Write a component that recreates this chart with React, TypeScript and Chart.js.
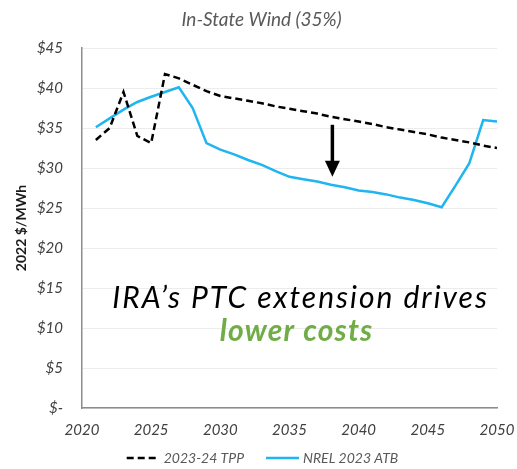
import React, { useEffect, useRef } from "react";
import { Chart, registerables } from "chart.js";

Chart.register(...registerables);

const years = [2021, 2022, 2023, 2024, 2025, 2026, 2027, 2028, 2029, 2030, 2031, 2032, 2033, 2034, 2035, 2036, 2037, 2038, 2039, 2040, 2041, 2042, 2043, 2044, 2045, 2046, 2047, 2048, 2049, 2050];
const tppValues = [33.5, 35.0, 39.5, 34.0, 33.1, 41.75, 41.2, 40.4, 39.6, 39.0, 38.7, 38.4, 38.1, 37.7, 37.4, 37.1, 36.8, 36.4, 36.1, 35.8, 35.5, 35.1, 34.8, 34.5, 34.2, 33.8, 33.5, 33.2, 32.8, 32.5];
const atbValues = [35.1, 36.2, 37.3, 38.25, 38.9, 39.5, 40.1, 37.5, 33.1, 32.3, 31.7, 31.0, 30.4, 29.6, 28.9, 28.6, 28.3, 27.9, 27.6, 27.2, 27.0, 26.7, 26.3, 26.0, 25.6, 25.1, 27.8, 30.6, 36.0, 35.8];
const seriesNames = ["2023-24 TPP", "NREL 2023 ATB"];
const chartTitle = "In-State Wind (35%)";
const yAxisTitle = "2022 $/MWh";
const annotationLine1 = "IRA\u2019s PTC extension drives";
const annotationLine2 = "lower costs";
const arrowYear = 2038.1;
const arrowFrom = 35.4;
const arrowTo = 28.9;

const FONT = "Lato, 'Open Sans', sans-serif";

const annotationPlugin = {
  id: "annotations",
  afterDatasetsDraw(chart: any) {
    const { ctx, scales } = chart;
    const xs = scales.x;
    const ys = scales.y;
    const ax = xs.getPixelForValue(arrowYear);
    const y1 = ys.getPixelForValue(arrowFrom);
    const y2 = ys.getPixelForValue(arrowTo);
    ctx.save();
    ctx.strokeStyle = "#000";
    ctx.fillStyle = "#000";
    ctx.lineWidth = 3.5;
    ctx.beginPath();
    ctx.moveTo(ax, y1);
    ctx.lineTo(ax, y2 - 14);
    ctx.stroke();
    ctx.beginPath();
    ctx.moveTo(ax - 7.5, y2 - 16);
    ctx.lineTo(ax + 7.5, y2 - 16);
    ctx.lineTo(ax, y2);
    ctx.closePath();
    ctx.fill();
    const tx = xs.getPixelForValue(2035.8);
    ctx.textAlign = "center";
    ctx.textBaseline = "middle";
    ctx.fillStyle = "#000";
    ctx.font = `italic 30px ${FONT}`;
    ctx.letterSpacing = "2px";
    ctx.fillText(annotationLine1, tx, ys.getPixelForValue(13.75));
    ctx.fillStyle = "#70AD47";
    ctx.font = `italic bold 30px ${FONT}`;
    ctx.letterSpacing = "1.2px";
    ctx.fillText(annotationLine2, tx - 4, ys.getPixelForValue(9.6));
    ctx.restore();
  },
};

const titleLegendPlugin = {
  id: "titleLegend",
  afterDraw(chart: any) {
    const { ctx } = chart;
    ctx.save();
    // title
    ctx.font = `italic 19px ${FONT}`;
    ctx.fillStyle = "#595959";
    ctx.textAlign = "center";
    ctx.textBaseline = "middle";
    ctx.fillText(chartTitle, chart.width / 2 + 3, 20);
    // legend
    const ds = chart.data.datasets;
    const markerW = 33;
    const gap = 4;
    const itemGap = 22;
    ctx.font = `italic 14px ${FONT}`;
    const widths = ds.map((d: any) => markerW + gap + ctx.measureText(d.label).width);
    const total = widths.reduce((a: number, b: number) => a + b, 0) + itemGap * (ds.length - 1);
    let x = chart.width / 2 - total / 2 + 4;
    const y = 458;
    ds.forEach((d: any, i: number) => {
      ctx.strokeStyle = d.borderColor;
      ctx.lineWidth = d.borderWidth;
      ctx.setLineDash(d.borderDash || []);
      ctx.beginPath();
      ctx.moveTo(x, y);
      ctx.lineTo(x + markerW, y);
      ctx.stroke();
      ctx.setLineDash([]);
      ctx.fillStyle = "#595959";
      ctx.textAlign = "left";
      ctx.textBaseline = "middle";
      ctx.fillText(d.label, x + markerW + gap, y);
      x += widths[i] + itemGap;
    });
    ctx.restore();
  },
};

export default function App() {
  const ref = useRef<HTMLCanvasElement | null>(null);
  useEffect(() => {
    if (!ref.current) return;
    const chart = new Chart(ref.current, {
      type: "line",
      data: {
        datasets: [
          {
            label: seriesNames[0],
            data: years.map((x, i) => ({ x, y: tppValues[i] })),
            borderColor: "#000000",
            backgroundColor: "#000000",
            borderWidth: 2.5,
            borderDash: [7, 4],
            pointRadius: 0,
            tension: 0,
          },
          {
            label: seriesNames[1],
            data: years.map((x, i) => ({ x, y: atbValues[i] })),
            borderColor: "#1FB5F0",
            backgroundColor: "#1FB5F0",
            borderWidth: 2.5,
            pointRadius: 0,
            tension: 0,
          },
        ],
      },
      options: {
        responsive: false,
        animation: false,
        layout: { padding: { left: 0, right: 20, top: 48, bottom: 31 } },
        plugins: {
          title: { display: false },
          legend: { display: false },
          tooltip: { enabled: false },
        },
        scales: {
          x: {
            type: "linear",
            min: 2020,
            max: 2050,
            afterFit: (s: any) => {
              s.height = 30;
              s.paddingRight = 0;
              s.paddingLeft = 0;
            },
            ticks: {
              stepSize: 5,
              color: "#404040",
              font: { family: FONT, size: 15, style: "italic" },
              padding: 13,
              callback: (v: any) => String(v),
            },
            grid: { display: false, drawTicks: false },
            border: { display: true, color: "#8c8c8c", width: 1.5 },
          },
          y: {
            min: 0,
            max: 45,
            afterFit: (s: any) => {
              s.width = 82;
            },
            ticks: {
              stepSize: 5,
              color: "#404040",
              font: { family: FONT, size: 15, style: "italic" },
              padding: 19,
              callback: (v: any) => (v === 0 ? "$-" : "$" + v),
            },
            grid: { color: "#ececec", drawTicks: false },
            border: { display: true, color: "#8c8c8c", width: 1.5 },
            title: {
              display: true,
              text: yAxisTitle,
              color: "#1a1a1a",
              font: { family: FONT, size: 14, weight: "bold" },
              padding: { top: 13, bottom: 0 },
            },
          },
        },
      },
      plugins: [annotationPlugin, titleLegendPlugin],
    } as any);
    return () => chart.destroy();
  }, []);
  return (
    <div style={{ position: "absolute", left: 0, top: 0, width: 517, height: 469, background: "#fff" }}>
      <canvas ref={ref} width={517} height={469} />
    </div>
  );
}
